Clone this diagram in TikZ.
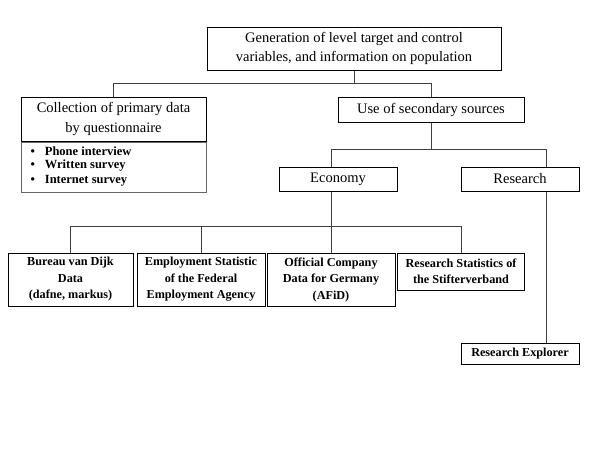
\documentclass[tikz,border=0pt]{standalone}
\usepackage{fontspec}
\setmainfont{Liberation Serif}
\begin{document}
\begin{tikzpicture}[x=1pt,y=-1pt,
  box/.style={draw=black,line width=1pt,inner sep=0pt,align=center},
  big/.style={font=\fontsize{14.5}{19.5}\selectfont},
  small/.style={font=\bfseries\fontsize{12.2}{16.5}\selectfont},
  bul/.style={font=\bfseries\fontsize{12.5}{15}\selectfont},
  conn/.style={draw=black!75,line width=1pt}]
\useasboundingbox (0,0) rectangle (600,450);
% top
\node[box,big,minimum width=294,minimum height=43] (top) at (354,48.5) {Generation of level target and control\\variables, and information on population};
\node[box,big,minimum width=185,minimum height=44] (coll) at (113.5,119) {Collection of primary data\\by questionnaire};
\node[draw=black!60,line width=0.6pt,inner sep=0pt,minimum width=185,minimum height=50,anchor=north] (collb) at (coll.south) {};
\node[bul,anchor=west] (b1) at (27,151) {\textbullet\hspace{10pt}Phone interview};
\node[bul,anchor=west] (b2) at (27,166) {\textbullet\hspace{10pt}Written survey};
\node[bul,anchor=west] (b3) at (27,181) {\textbullet\hspace{10pt}Internet survey};
\node[box,big,minimum width=186,minimum height=25] (use) at (431,109.5) {Use of secondary sources};
\node[box,big,minimum width=118,minimum height=24] (econ) at (338,179) {Economy};
\node[box,big,minimum width=118,minimum height=24] (res) at (520,179) {Research};
\node[box,small,minimum width=125,minimum height=53] (bvd) at (70.5,279.5) {Bureau van Dijk\\Data\\(dafne, markus)};
\node[box,small,minimum width=128,minimum height=53] (emp) at (201,279.5) {Employment Statistic\\of the Federal\\Employment Agency};
\node[box,small,minimum width=128,minimum height=53] (afid) at (331,279.5) {Official Company\\Data for Germany\\(AFiD)};
\node[box,small,minimum width=127,minimum height=37] (stif) at (461,271.5) {Research Statistics of\\the Stifterverband};
\node[box,small,minimum width=118,minimum height=21] (rexp) at (520,353.5) {Research Explorer};
% connectors
\coordinate (h1) at (0,83);
\coordinate (h2) at (0,149);
\coordinate (h3) at (0,226);
\coordinate (xe) at (331,0);
\coordinate (xr) at (546,0);
\draw[conn] (top.south) -- (top.south |- h1);
\draw[conn] (coll.north) -- (coll.north |- h1) -- (use.north |- h1) -- (use.north);
\draw[conn] (use.south) -- (use.south |- h2);
\draw[conn] (econ.north -| xe) -- (xe |- h2) -- (xr |- h2) -- (res.north -| xr);
\draw[conn] (econ.south -| xe) -- (afid.north);
\draw[conn] (bvd.north) -- (bvd.north |- h3) -- (stif.north |- h3) -- (stif.north);
\draw[conn] (emp.north) -- (emp.north |- h3);
\draw[conn] (res.south -| xr) -- (rexp.north -| xr);
\end{tikzpicture}
\end{document}
